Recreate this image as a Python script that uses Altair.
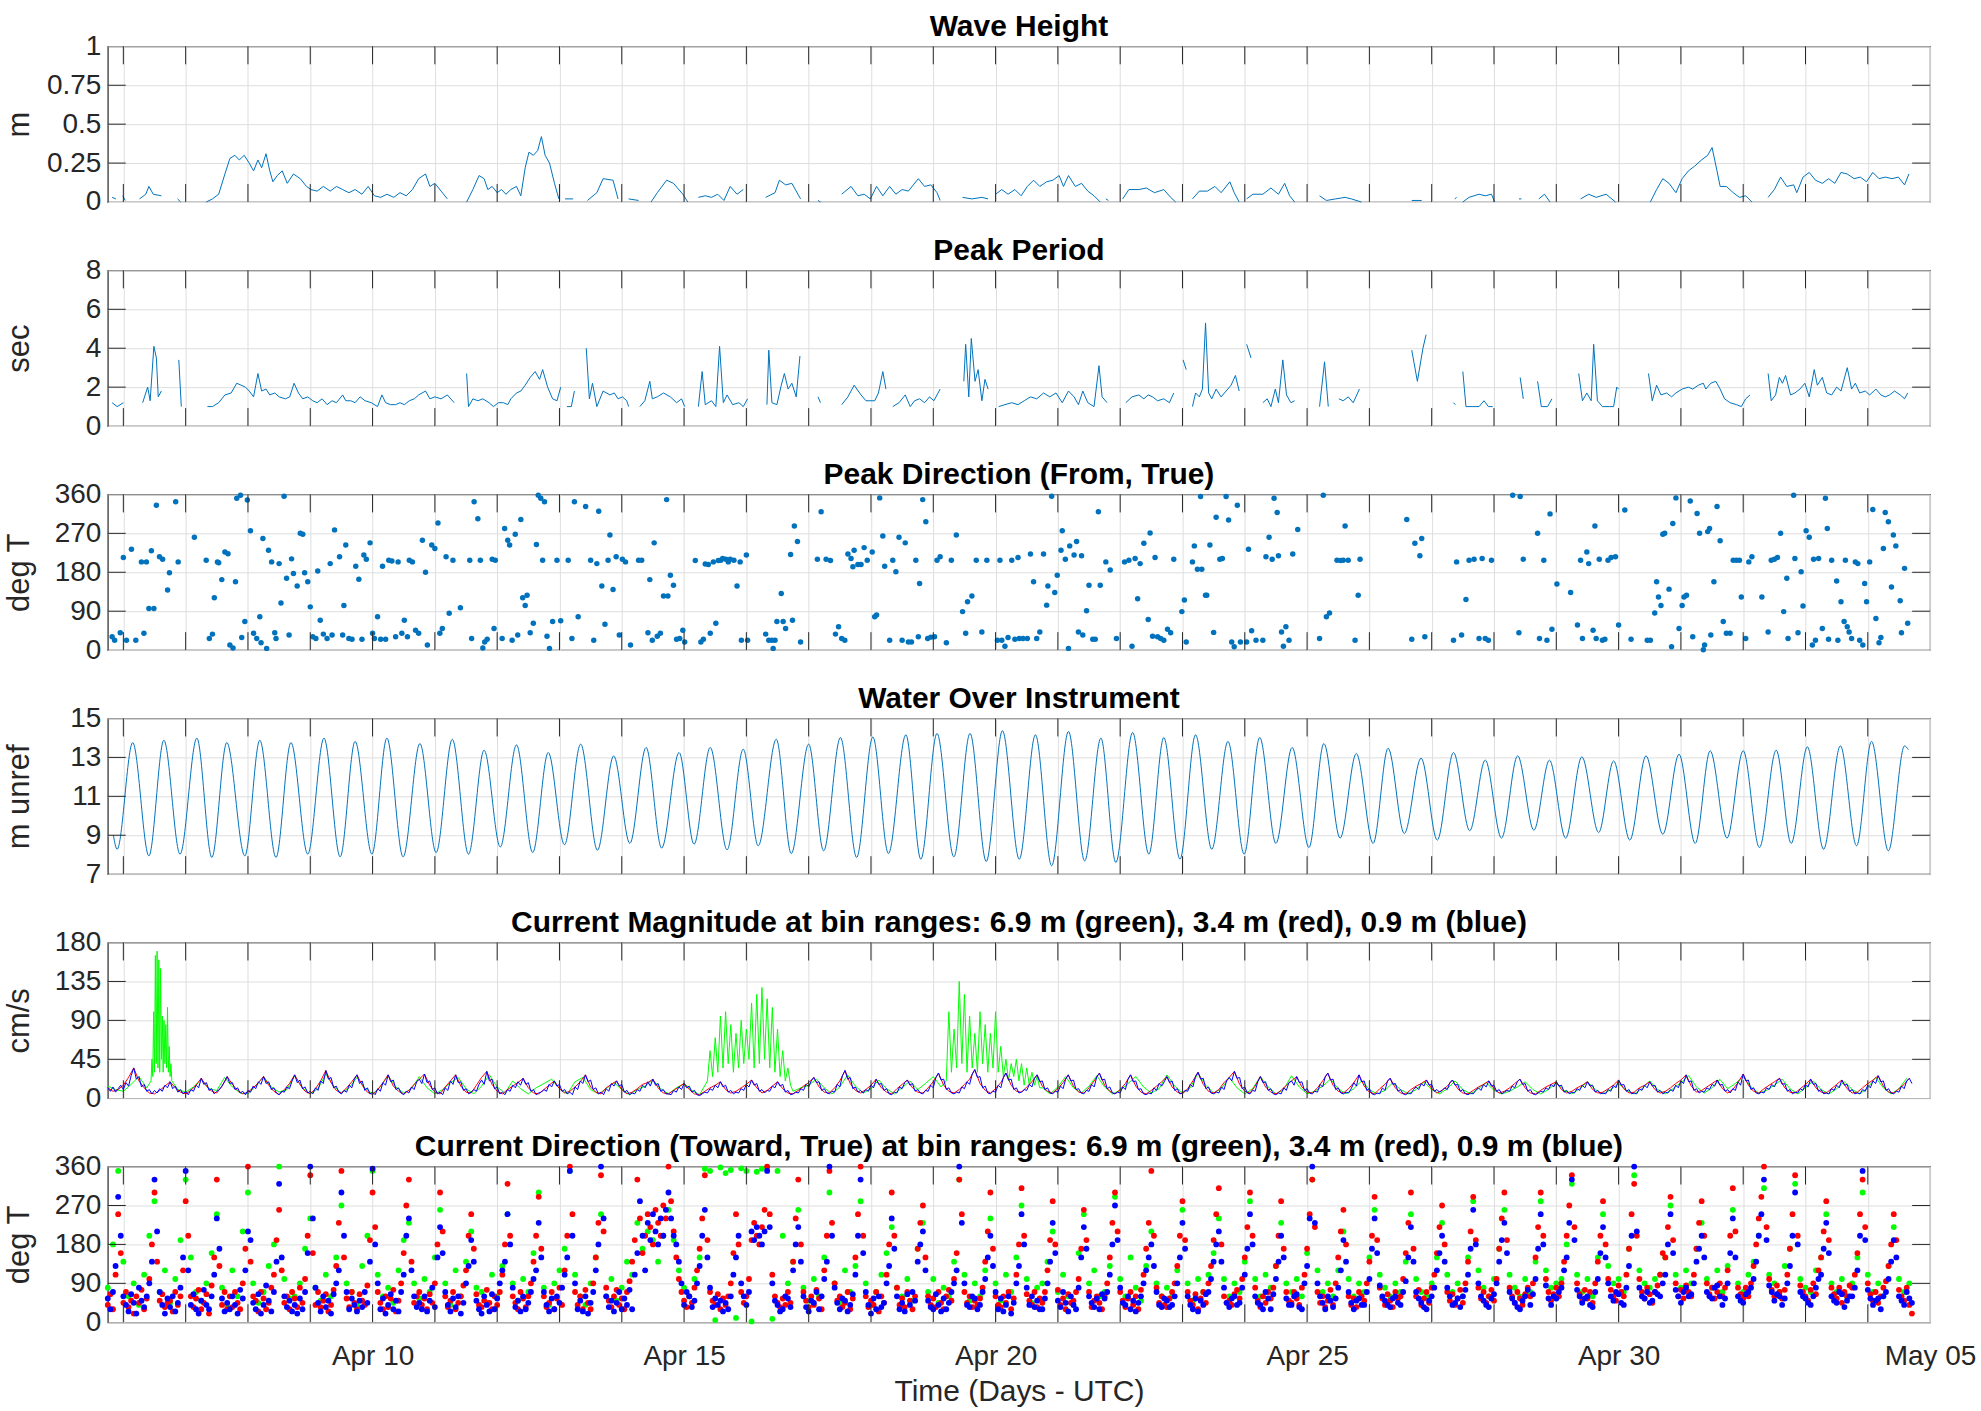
import altair as alt
import pandas as pd

# ---------------------------------------------------------------- style
FONT = "Liberation Sans"
INK = "#262626"
MATLAB_BLUE = "#0072BD"
GRID = "#dedede"
GREEN, RED, BLUE = "#00FF00", "#FF0000", "#0000FF"

W, H = 1826, 156          # plot area of every panel
TICK = 18                 # inward tick length
SPACING = 17.5

# Day offsets below are measured from midnight at the start of Apr 6.
T0 = pd.Timestamp("2021-04-06 00:00")
SERIES_START = "2021-04-05 18:00"
X_DOMAIN = [alt.DateTime(year=2021, month=4, date=5, hours=18),
            alt.DateTime(year=2021, month=5, date=5, hours=0)]

# ---------------------------------------------------------------- data
# Significant wave height (m): gappy record, one list per continuous piece
WAVE_HEIGHT = [
    [(-0.18, 0.03), (-0.12, 0.02)],
    [(-0.01, 0.04), (0.03, 0.01)],
    [(0.26, 0.02), (0.36, 0.05), (0.41, 0.10), (0.48, 0.05), (0.61, 0.04)],
    [(0.87, 0.02), (0.92, 0.0)],
    [(1.33, 0.0), (1.43, 0.02), (1.53, 0.05), (1.63, 0.18), (1.71, 0.28), (1.79, 0.30), (1.86, 0.27), (1.94, 0.30),
     (2.02, 0.25), (2.09, 0.20), (2.16, 0.27), (2.22, 0.22), (2.29, 0.31), (2.35, 0.20), (2.40, 0.13), (2.47, 0.17),
     (2.55, 0.20), (2.63, 0.12), (2.73, 0.18), (2.84, 0.15), (2.94, 0.10), (3.01, 0.08), (3.11, 0.07), (3.21, 0.10),
     (3.32, 0.07), (3.42, 0.10), (3.52, 0.08), (3.62, 0.06), (3.72, 0.08), (3.83, 0.05), (3.93, 0.10), (4.03, 0.04),
     (4.13, 0.03), (4.23, 0.05), (4.34, 0.03), (4.44, 0.06), (4.54, 0.04), (4.64, 0.08), (4.74, 0.15), (4.85, 0.18),
     (4.92, 0.10), (5.00, 0.12), (5.10, 0.07), (5.20, 0.02)],
    [(5.51, 0.0), (5.61, 0.08), (5.71, 0.17), (5.79, 0.15), (5.85, 0.08), (5.92, 0.10), (6.00, 0.06), (6.07, 0.08),
     (6.14, 0.05), (6.22, 0.08), (6.31, 0.10), (6.38, 0.04), (6.45, 0.22), (6.51, 0.32), (6.58, 0.30), (6.65, 0.33),
     (6.71, 0.42), (6.77, 0.30), (6.84, 0.25), (6.92, 0.12), (6.99, 0.02)],
    [(7.09, 0.02), (7.22, 0.02)],
    [(7.45, 0.01), (7.60, 0.06), (7.70, 0.15), (7.86, 0.14), (7.94, 0.02)],
    [(8.11, 0.02), (8.27, 0.01)],
    [(8.47, 0.0), (8.57, 0.06), (8.72, 0.14), (8.83, 0.12), (8.98, 0.05), (9.06, 0.0)],
    [(9.23, 0.03), (9.34, 0.04), (9.44, 0.03), (9.54, 0.05), (9.64, 0.01), (9.74, 0.10), (9.85, 0.05), (9.95, 0.08)],
    [(10.31, 0.03), (10.46, 0.06), (10.53, 0.14), (10.63, 0.11), (10.73, 0.12), (10.87, 0.02)],
    [(11.15, 0.01), (11.19, 0.0)],
    [(11.53, 0.05), (11.68, 0.10), (11.79, 0.04), (11.89, 0.05), (11.99, 0.02), (12.09, 0.10), (12.19, 0.04),
     (12.30, 0.10), (12.40, 0.05), (12.50, 0.08), (12.60, 0.07), (12.76, 0.15), (12.86, 0.10), (12.96, 0.11),
     (13.06, 0.06), (13.11, 0.01)],
    [(13.47, 0.03), (13.62, 0.02), (13.78, 0.03), (13.88, 0.02)],
    [(14.00, 0.05), (14.10, 0.08), (14.20, 0.05), (14.31, 0.08), (14.41, 0.04), (14.51, 0.10), (14.61, 0.14),
     (14.71, 0.10), (14.82, 0.13), (14.92, 0.14), (15.02, 0.17), (15.09, 0.10), (15.17, 0.17), (15.28, 0.10),
     (15.38, 0.12), (15.48, 0.07), (15.58, 0.04), (15.68, 0.0)],
    [(15.77, 0.02), (15.81, 0.01)],
    [(16.04, 0.02), (16.14, 0.08), (16.30, 0.08), (16.42, 0.09), (16.55, 0.06), (16.70, 0.08), (16.81, 0.03), (16.89, 0.0)],
    [(17.16, 0.02), (17.27, 0.07), (17.40, 0.07), (17.52, 0.10), (17.62, 0.06), (17.76, 0.13), (17.83, 0.06), (17.91, 0.0)],
    [(18.03, 0.02), (18.13, 0.05), (18.29, 0.05), (18.42, 0.09), (18.54, 0.05), (18.64, 0.12), (18.72, 0.04), (18.80, 0.0)],
    [(19.20, 0.04), (19.31, 0.01), (19.46, 0.02), (19.61, 0.03), (19.71, 0.02), (19.87, 0.0)],
    [(20.68, 0.01), (20.84, 0.01)],
    [(21.37, 0.02), (21.40, 0.03)],
    [(21.50, 0.0), (21.60, 0.03), (21.76, 0.05), (21.86, 0.04), (21.96, 0.05), (22.01, 0.0)],
    [(22.40, 0.02), (22.44, 0.02)],
    [(22.72, 0.02), (22.81, 0.05), (22.90, 0.0)],
    [(23.39, 0.02), (23.52, 0.05), (23.64, 0.03), (23.80, 0.05), (23.95, 0.0)],
    [(24.51, 0.0), (24.61, 0.08), (24.71, 0.15), (24.81, 0.12), (24.92, 0.06), (25.02, 0.15), (25.12, 0.20),
     (25.22, 0.23), (25.33, 0.27), (25.43, 0.30), (25.50, 0.35), (25.58, 0.20), (25.63, 0.10), (25.73, 0.10),
     (25.84, 0.06), (25.94, 0.03), (26.04, 0.04), (26.14, 0.0)],
    [(26.40, 0.03), (26.50, 0.08), (26.60, 0.16), (26.70, 0.10), (26.81, 0.11), (26.86, 0.06), (26.96, 0.16),
     (27.06, 0.19), (27.16, 0.14), (27.27, 0.12), (27.37, 0.15), (27.47, 0.12), (27.57, 0.19), (27.67, 0.18),
     (27.78, 0.15), (27.88, 0.16), (27.98, 0.13), (28.08, 0.19), (28.18, 0.15), (28.28, 0.16), (28.39, 0.15),
     (28.49, 0.16), (28.59, 0.11), (28.66, 0.18)],
]

# Peak period (s)
PEAK_PERIOD = [
    [(-0.18, 1.2), (-0.10, 1.0), (0.00, 1.2)],
    [(0.31, 1.2), (0.39, 2.0), (0.43, 1.3), (0.49, 4.1), (0.53, 3.5), (0.56, 1.5), (0.61, 1.8)],
    [(0.89, 3.4), (0.93, 1.0)],
    [(1.35, 1.0), (1.43, 1.0), (1.53, 1.2), (1.63, 1.6), (1.73, 1.7), (1.82, 2.2), (1.89, 2.1), (1.96, 2.0),
     (2.02, 1.8), (2.09, 1.5), (2.16, 2.7), (2.22, 1.8), (2.29, 1.9), (2.35, 1.6), (2.43, 1.7), (2.50, 1.5),
     (2.60, 1.4), (2.67, 1.5), (2.74, 2.2), (2.81, 1.7), (2.88, 1.4), (2.96, 1.5), (3.04, 1.3), (3.11, 1.2),
     (3.19, 1.4), (3.27, 1.1), (3.35, 1.3), (3.42, 1.2), (3.52, 1.6), (3.57, 1.3), (3.65, 1.3), (3.72, 1.2),
     (3.80, 1.5), (3.88, 1.3), (3.98, 1.2), (4.08, 1.0), (4.15, 1.6), (4.21, 1.2), (4.29, 1.1), (4.37, 1.1),
     (4.44, 1.2), (4.51, 1.1), (4.59, 1.3), (4.67, 1.4), (4.74, 1.6), (4.85, 1.8), (4.92, 1.4), (5.00, 1.5),
     (5.10, 1.4), (5.20, 1.6), (5.31, 1.2)],
    [(5.51, 2.7), (5.54, 1.0), (5.61, 1.4), (5.69, 1.3), (5.77, 1.4), (5.87, 1.2), (5.94, 1.0), (6.02, 1.2),
     (6.10, 1.2), (6.17, 1.1), (6.22, 1.4), (6.31, 1.7), (6.38, 1.8), (6.45, 2.1), (6.53, 2.5), (6.61, 2.8),
     (6.68, 2.4), (6.73, 2.9), (6.81, 2.0), (6.89, 1.4), (6.96, 1.3), (7.02, 2.0)],
    [(7.12, 1.0), (7.19, 1.0), (7.24, 1.8)],
    [(7.43, 4.0), (7.48, 1.4), (7.53, 2.2), (7.60, 1.0), (7.70, 1.8), (7.81, 1.6), (7.88, 1.7), (7.94, 1.4),
     (8.01, 1.5), (8.08, 1.3), (8.11, 1.0)],
    [(8.29, 1.0), (8.37, 1.3), (8.45, 2.3), (8.49, 1.4), (8.57, 1.5), (8.67, 1.7), (8.78, 1.5), (8.88, 1.2),
     (8.96, 1.4), (9.01, 1.0)],
    [(9.23, 1.0), (9.29, 2.8), (9.34, 1.1), (9.44, 1.3), (9.51, 1.0), (9.57, 4.1), (9.63, 1.2), (9.69, 1.6),
     (9.78, 1.1), (9.88, 1.2), (9.95, 1.0), (10.02, 1.4)],
    [(10.33, 1.1), (10.36, 3.9), (10.41, 1.2), (10.49, 1.1), (10.56, 2.1), (10.61, 2.7), (10.67, 1.9),
     (10.73, 2.2), (10.80, 1.5), (10.86, 3.6)],
    [(11.15, 1.5), (11.19, 1.2)],
    [(11.53, 1.1), (11.63, 1.5), (11.73, 2.1), (11.84, 1.6), (11.92, 1.3), (12.06, 1.3), (12.12, 1.7),
     (12.19, 2.8), (12.24, 1.9)],
    [(12.35, 1.0), (12.45, 1.2), (12.55, 1.6), (12.63, 1.0), (12.70, 1.3), (12.78, 1.4), (12.86, 1.2),
     (12.94, 1.5), (13.01, 1.3), (13.11, 1.9)],
    [(13.49, 2.3), (13.52, 4.2), (13.57, 1.5), (13.61, 4.5), (13.67, 2.3), (13.72, 2.9), (13.78, 1.3),
     (13.83, 2.4), (13.88, 1.9)],
    [(14.05, 1.0), (14.15, 1.1), (14.26, 1.2), (14.36, 1.1), (14.46, 1.3), (14.56, 1.5), (14.66, 1.4),
     (14.77, 1.7), (14.87, 1.5), (14.97, 1.7), (15.07, 1.2), (15.17, 1.8), (15.26, 1.5), (15.33, 1.1),
     (15.40, 1.8), (15.48, 1.2), (15.58, 1.0), (15.66, 3.1), (15.71, 1.5), (15.79, 1.2)],
    [(16.09, 1.2), (16.19, 1.5), (16.30, 1.6), (16.38, 1.4), (16.45, 1.6), (16.52, 1.5), (16.60, 1.3),
     (16.70, 1.4), (16.79, 1.2), (16.86, 1.7)],
    [(17.01, 3.4), (17.06, 2.9)],
    [(17.16, 1.0), (17.21, 1.7), (17.27, 1.5), (17.32, 1.9), (17.37, 5.3), (17.42, 1.7), (17.47, 1.4),
     (17.54, 1.9), (17.62, 1.5), (17.70, 1.8), (17.78, 2.1), (17.85, 2.6), (17.91, 1.8)],
    [(18.03, 4.2), (18.10, 3.5)],
    [(18.29, 1.2), (18.36, 1.4), (18.42, 1.0), (18.49, 1.9), (18.54, 1.2), (18.61, 3.4), (18.67, 1.6),
     (18.74, 1.2), (18.80, 1.3)],
    [(19.20, 1.0), (19.28, 3.3), (19.34, 1.0)],
    [(19.51, 1.4), (19.58, 1.3), (19.66, 1.5), (19.74, 1.2), (19.84, 1.9)],
    [(20.68, 3.9), (20.77, 2.3), (20.86, 4.0), (20.91, 4.7)],
    [(21.35, 1.2), (21.38, 1.1)],
    [(21.50, 2.8), (21.55, 1.0), (21.65, 1.0), (21.76, 1.0), (21.84, 1.3), (21.91, 1.0), (21.98, 1.0)],
    [(22.42, 2.5), (22.47, 1.4)],
    [(22.70, 2.3), (22.76, 1.0), (22.86, 1.0), (22.93, 1.4)],
    [(23.36, 2.7), (23.42, 1.3), (23.49, 1.7), (23.56, 1.3), (23.60, 4.2), (23.66, 1.3), (23.74, 1.0),
     (23.85, 1.0), (23.92, 1.0), (23.97, 2.0), (24.00, 1.9)],
    [(24.48, 2.7), (24.54, 1.3), (24.61, 2.1), (24.68, 1.6), (24.77, 1.7), (24.85, 1.5), (24.92, 1.7),
     (25.02, 1.9), (25.12, 2.0), (25.19, 1.9), (25.28, 2.1), (25.36, 2.2), (25.40, 1.9), (25.48, 2.2),
     (25.56, 2.3), (25.63, 1.9), (25.70, 1.4), (25.79, 1.2), (25.89, 1.1), (25.97, 1.0), (26.04, 1.4), (26.11, 1.6)],
    [(26.40, 2.7), (26.45, 1.3), (26.52, 1.6), (26.58, 2.5), (26.63, 2.2), (26.68, 2.6), (26.76, 1.6),
     (26.83, 1.7), (26.91, 1.9), (26.99, 2.2), (27.06, 1.5), (27.14, 2.9), (27.19, 2.1), (27.27, 2.5),
     (27.34, 1.7), (27.42, 1.6), (27.50, 2.0), (27.57, 1.8), (27.67, 3.0), (27.74, 1.9), (27.80, 2.2),
     (27.87, 1.7), (27.96, 1.8), (28.03, 1.6), (28.13, 1.9), (28.21, 1.6), (28.28, 1.5), (28.35, 1.6),
     (28.43, 1.8), (28.52, 1.6), (28.59, 1.4), (28.64, 1.7)],
]

# Peak wave direction (deg true, coming from): (day, deg)
PEAK_DIRECTION = [
    (-0.18, 31), (-0.14, 23), (-0.05, 40), (0.00, 214), (0.05, 23), (0.13, 233), (0.20, 23), (0.29, 204), (0.33, 39),
    (0.37, 204), (0.41, 96), (0.45, 230), (0.49, 96), (0.53, 335), (0.58, 216), (0.63, 210), (0.71, 139), (0.74, 179),
    (0.84, 343), (0.88, 204), (1.14, 261), (1.33, 208), (1.38, 27), (1.43, 37), (1.46, 121), (1.51, 204), (1.53, 202),
    (1.58, 163), (1.63, 227), (1.68, 223), (1.71, 12), (1.76, 5), (1.80, 158), (1.82, 351), (1.88, 358), (1.90, 29),
    (1.95, 66), (1.99, 347), (2.04, 276), (2.09, 39), (2.14, 27), (2.19, 77), (2.21, 17), (2.24, 258), (2.30, 4),
    (2.33, 231), (2.38, 204), (2.43, 40), (2.45, 27), (2.50, 200), (2.53, 109), (2.58, 356), (2.62, 166), (2.66, 35),
    (2.70, 211), (2.73, 177), (2.79, 148), (2.84, 270), (2.88, 268), (2.91, 179), (2.96, 158), (3.00, 100), (3.04, 31),
    (3.09, 27), (3.12, 183), (3.16, 69), (3.21, 37), (3.27, 27), (3.32, 200), (3.35, 35), (3.39, 278), (3.47, 216),
    (3.52, 35), (3.54, 103), (3.57, 243), (3.62, 27), (3.67, 25), (3.73, 194), (3.78, 164), (3.83, 25), (3.86, 220),
    (3.90, 210), (3.96, 248), (4.00, 39), (4.03, 27), (4.08, 77), (4.13, 25), (4.16, 194), (4.21, 25), (4.26, 208),
    (4.31, 206), (4.37, 31), (4.41, 204), (4.47, 39), (4.51, 69), (4.56, 31), (4.59, 208), (4.64, 204), (4.69, 46),
    (4.74, 39), (4.80, 254), (4.85, 180), (4.88, 12), (4.95, 243), (5.00, 235), (5.05, 294), (5.08, 39), (5.12, 50),
    (5.18, 216), (5.23, 85), (5.29, 208), (5.41, 98), (5.56, 208), (5.59, 27), (5.63, 343), (5.69, 304), (5.73, 208),
    (5.77, 5), (5.80, 19), (5.84, 25), (5.92, 210), (5.95, 50), (5.97, 208), (6.08, 27), (6.12, 281), (6.17, 254),
    (6.20, 243), (6.24, 23), (6.29, 268), (6.33, 35), (6.38, 302), (6.41, 121), (6.45, 103), (6.48, 127), (6.53, 40),
    (6.58, 62), (6.63, 244), (6.66, 358), (6.70, 351), (6.73, 208), (6.76, 343), (6.80, 32), (6.84, 4), (6.89, 66),
    (6.96, 208), (7.02, 68), (7.14, 208), (7.20, 27), (7.24, 343), (7.30, 77), (7.42, 332), (7.50, 208), (7.55, 23),
    (7.60, 200), (7.63, 321), (7.68, 148), (7.73, 60), (7.78, 208), (7.81, 266), (7.86, 140), (7.91, 216), (7.96, 35),
    (8.01, 210), (8.06, 204), (8.14, 12), (8.27, 208), (8.32, 208), (8.42, 40), (8.45, 163), (8.49, 23), (8.52, 248),
    (8.57, 32), (8.62, 39), (8.67, 125), (8.72, 348), (8.74, 125), (8.78, 173), (8.83, 150), (8.88, 25), (8.93, 27),
    (8.98, 46), (9.01, 19), (9.18, 207), (9.27, 19), (9.31, 25), (9.34, 199), (9.39, 198), (9.42, 39), (9.47, 204),
    (9.51, 62), (9.55, 207), (9.59, 208), (9.62, 212), (9.67, 210), (9.71, 204), (9.74, 210), (9.80, 208), (9.85, 148),
    (9.90, 204), (9.92, 23), (10.00, 220), (10.02, 23), (10.31, 37), (10.36, 23), (10.41, 23), (10.43, 4), (10.46, 23),
    (10.49, 66), (10.56, 131), (10.59, 66), (10.63, 50), (10.71, 221), (10.74, 69), (10.77, 287), (10.82, 251),
    (10.87, 19), (11.14, 210), (11.20, 320), (11.28, 210), (11.35, 207), (11.43, 37), (11.48, 54), (11.53, 27),
    (11.58, 23), (11.63, 222), (11.68, 212), (11.71, 193), (11.73, 231), (11.79, 198), (11.84, 198), (11.89, 237),
    (11.94, 208), (12.02, 227), (12.06, 77), (12.09, 81), (12.14, 352), (12.19, 264), (12.22, 194), (12.30, 23),
    (12.35, 208), (12.40, 181), (12.45, 261), (12.50, 23), (12.55, 248), (12.60, 19), (12.65, 19), (12.72, 208),
    (12.76, 31), (12.78, 154), (12.83, 348), (12.88, 297), (12.91, 27), (12.96, 30), (13.02, 31), (13.06, 208),
    (13.11, 216), (13.21, 17), (13.29, 208), (13.37, 266), (13.47, 89), (13.52, 39), (13.55, 112), (13.62, 125),
    (13.69, 208), (13.78, 42), (13.86, 208), (14.03, 23), (14.07, 208), (14.10, 23), (14.15, 9), (14.20, 29),
    (14.26, 208), (14.31, 25), (14.36, 214), (14.38, 27), (14.44, 27), (14.51, 27), (14.56, 222), (14.61, 158),
    (14.66, 27), (14.71, 42), (14.77, 222), (14.82, 104), (14.84, 148), (14.90, 356), (14.95, 133), (14.99, 173),
    (15.05, 231), (15.07, 276), (15.12, 210), (15.17, 4), (15.19, 241), (15.26, 220), (15.30, 251), (15.33, 42),
    (15.38, 218), (15.40, 35), (15.46, 91), (15.50, 150), (15.56, 25), (15.60, 25), (15.65, 320), (15.68, 150),
    (15.77, 204), (15.84, 185), (15.94, 27), (16.07, 204), (16.14, 208), (16.19, 9), (16.24, 212), (16.28, 119),
    (16.32, 200), (16.38, 247), (16.45, 71), (16.48, 271), (16.52, 32), (16.56, 214), (16.60, 31), (16.65, 27),
    (16.70, 23), (16.76, 48), (16.81, 40), (16.86, 210), (16.99, 89), (17.03, 116), (17.06, 19), (17.16, 204),
    (17.19, 241), (17.24, 187), (17.29, 355), (17.31, 187), (17.37, 127), (17.39, 127), (17.44, 243), (17.50, 41),
    (17.54, 307), (17.60, 210), (17.64, 212), (17.70, 355), (17.74, 301), (17.79, 19), (17.83, 8), (17.88, 335),
    (17.93, 19), (18.03, 19), (18.06, 233), (18.11, 45), (18.18, 23), (18.29, 23), (18.34, 216), (18.39, 261),
    (18.44, 210), (18.47, 351), (18.52, 318), (18.54, 218), (18.59, 42), (18.62, 9), (18.66, 54), (18.71, 23),
    (18.77, 222), (18.85, 279), (19.20, 27), (19.26, 358), (19.31, 77), (19.36, 86), (19.48, 208), (19.54, 207),
    (19.58, 208), (19.61, 287), (19.66, 208), (19.77, 23), (19.82, 127), (19.85, 210), (20.60, 302), (20.68, 25),
    (20.73, 247), (20.81, 218), (20.84, 258), (20.89, 31), (21.35, 23), (21.40, 204), (21.48, 35), (21.55, 117),
    (21.60, 208), (21.68, 210), (21.76, 27), (21.81, 212), (21.86, 27), (21.91, 23), (21.96, 208), (22.30, 358),
    (22.40, 40), (22.42, 355), (22.47, 210), (22.70, 270), (22.73, 27), (22.80, 208), (22.85, 23), (22.90, 315),
    (22.93, 48), (23.01, 153), (23.23, 133), (23.34, 58), (23.39, 208), (23.42, 27), (23.49, 227), (23.52, 200),
    (23.59, 46), (23.62, 287), (23.64, 27), (23.69, 210), (23.74, 23), (23.78, 25), (23.83, 208), (23.88, 214),
    (23.95, 216), (24.00, 58), (24.10, 324), (24.20, 25), (24.46, 23), (24.51, 23), (24.58, 86), (24.61, 158),
    (24.64, 123), (24.68, 103), (24.71, 268), (24.74, 270), (24.81, 141), (24.85, 8), (24.87, 293), (24.92, 352),
    (24.97, 50), (25.02, 103), (25.05, 123), (25.09, 127), (25.15, 345), (25.19, 31), (25.26, 316), (25.30, 270),
    (25.36, 1), (25.38, 12), (25.43, 274), (25.46, 281), (25.48, 35), (25.53, 158), (25.58, 332), (25.63, 253),
    (25.68, 66), (25.73, 39), (25.79, 39), (25.84, 208), (25.89, 208), (25.94, 208), (25.97, 123), (26.04, 27),
    (26.09, 204), (26.14, 216), (26.30, 123), (26.40, 42), (26.45, 208), (26.50, 210), (26.55, 214), (26.60, 270),
    (26.65, 89), (26.70, 166), (26.72, 27), (26.81, 358), (26.83, 212), (26.88, 40), (26.93, 181), (26.96, 102),
    (27.01, 276), (27.06, 261), (27.11, 12), (27.13, 210), (27.16, 23), (27.21, 212), (27.27, 50), (27.32, 351),
    (27.35, 281), (27.37, 25), (27.42, 208), (27.50, 160), (27.52, 23), (27.57, 112), (27.62, 66), (27.64, 208),
    (27.67, 54), (27.70, 42), (27.74, 27), (27.80, 204), (27.84, 200), (27.87, 23), (27.92, 12), (27.95, 154),
    (27.98, 112), (28.03, 204), (28.08, 325), (28.13, 73), (28.18, 17), (28.21, 29), (28.25, 235), (28.28, 318),
    (28.33, 297), (28.38, 146), (28.41, 266), (28.45, 241), (28.52, 114), (28.54, 40), (28.59, 189), (28.64, 62),
]

# Water depth over the instrument (m, unreferenced): successive highs and lows
TIDE = [
    (-0.16, 9.0), (-0.10, 8.28), (0.15, 13.76), (0.41, 7.94), (0.65, 13.88), (0.91, 8.03), (1.18, 13.99), (1.42, 7.86),
    (1.66, 13.76), (1.95, 7.94), (2.19, 13.88), (2.45, 7.86), (2.69, 13.76), (2.96, 8.03), (3.22, 13.99), (3.48, 7.89),
    (3.72, 13.82), (3.99, 8.03), (4.23, 13.99), (4.49, 7.89), (4.76, 13.71), (5.02, 8.11), (5.28, 13.93), (5.54, 8.03),
    (5.79, 13.37), (6.05, 8.40), (6.31, 13.64), (6.57, 8.11), (6.82, 13.25), (7.08, 8.51), (7.34, 13.68), (7.61, 8.23),
    (7.87, 13.08), (8.13, 8.58), (8.39, 13.51), (8.64, 8.34), (8.92, 13.25), (9.16, 8.54), (9.42, 13.51), (9.69, 8.25),
    (9.95, 13.42), (10.19, 8.46), (10.48, 13.93), (10.72, 8.06), (11.00, 13.68), (11.24, 8.20), (11.51, 14.02),
    (11.77, 7.86), (12.03, 14.05), (12.28, 8.06), (12.56, 14.16), (12.80, 7.77), (13.06, 14.23), (13.33, 7.89),
    (13.59, 14.23), (13.85, 7.65), (14.11, 14.37), (14.38, 7.77), (14.64, 14.16), (14.90, 7.43), (15.17, 14.33),
    (15.43, 7.68), (15.69, 13.99), (15.93, 7.60), (16.20, 14.28), (16.46, 8.03), (16.70, 14.02), (16.96, 7.77),
    (17.21, 14.16), (17.47, 8.28), (17.73, 13.82), (17.99, 8.03), (18.24, 14.02), (18.50, 8.58), (18.76, 13.51),
    (19.03, 8.37), (19.27, 13.71), (19.53, 8.85), (19.79, 13.20), (20.06, 8.58), (20.30, 13.47), (20.56, 9.09),
    (20.83, 12.96), (21.09, 8.75), (21.35, 13.25), (21.61, 9.23), (21.86, 12.86), (22.12, 8.85), (22.38, 13.08),
    (22.64, 9.26), (22.89, 12.86), (23.15, 8.85), (23.41, 13.03), (23.68, 9.14), (23.92, 12.82), (24.18, 8.75),
    (24.44, 13.08), (24.71, 9.05), (24.97, 13.16), (25.23, 8.58), (25.47, 13.34), (25.74, 8.85), (26.00, 13.34),
    (26.26, 8.37), (26.53, 13.37), (26.77, 8.58), (27.03, 13.54), (27.29, 8.28), (27.56, 13.59), (27.82, 8.46),
    (28.06, 13.82), (28.33, 8.20), (28.59, 13.59), (28.65, 13.40),
]

# Current speed (cm/s). Blue: 0.9 m bin, hourly; red: 3.4 m bin, every 2 h;
# green: 6.9 m bin, every 3 h plus three high-rate bursts.
SPEED_BLUE = [
    12, 8, 13, 7, 11, 15, 10, 18, 14, 26, 35, 22, 25, 13, 16, 8, 10, 5, 9, 6, 11, 8, 15, 12,
    19, 11, 14, 7, 10, 5, 8, 4, 10, 8, 15, 12, 23, 16, 18, 9, 11, 5, 8, 10, 14, 19, 25, 17,
    18, 10, 12, 6, 8, 4, 9, 7, 14, 11, 19, 16, 25, 17, 19, 10, 12, 6, 4, 8, 7, 13, 11, 20,
    27, 18, 21, 11, 13, 6, 8, 5, 12, 9, 20, 17, 32, 22, 24, 12, 14, 7, 5, 9, 7, 15, 12, 22,
    27, 17, 20, 9, 12, 5, 7, 4, 11, 8, 18, 15, 27, 19, 21, 10, 12, 6, 4, 8, 6, 13, 10, 19,
    22, 17, 28, 18, 20, 10, 12, 5, 7, 4, 12, 9, 20, 16, 27, 18, 19, 9, 11, 5, 7, 10, 8, 16,
    21, 16, 31, 20, 22, 11, 13, 5, 7, 4, 10, 8, 15, 12, 19, 15, 23, 16, 18, 8, 10, 4, 6, 7,
    10, 8, 16, 13, 20, 14, 16, 8, 10, 5, 7, 4, 13, 10, 20, 17, 27, 19, 21, 10, 12, 5, 7, 4,
    11, 8, 17, 14, 20, 14, 16, 7, 9, 4, 6, 5, 10, 8, 15, 12, 19, 14, 22, 15, 17, 8, 10, 5,
    5, 4, 9, 7, 13, 10, 17, 12, 14, 7, 9, 4, 3, 5, 7, 6, 11, 9, 15, 12, 19, 13, 15, 7,
    9, 5, 7, 6, 11, 9, 16, 13, 21, 15, 17, 8, 10, 6, 9, 8, 14, 12, 19, 14, 16, 7, 9, 4,
    5, 7, 6, 11, 9, 16, 13, 20, 24, 18, 19, 9, 11, 6, 5, 8, 7, 16, 13, 26, 32, 22, 24, 11,
    13, 7, 9, 6, 10, 8, 15, 12, 22, 16, 17, 9, 11, 5, 4, 7, 6, 13, 11, 18, 21, 15, 17, 8,
    10, 6, 5, 9, 8, 15, 12, 24, 29, 21, 22, 10, 12, 6, 5, 7, 6, 13, 11, 19, 16, 28, 33, 24,
    25, 12, 14, 6, 5, 8, 7, 15, 12, 24, 29, 21, 22, 10, 12, 6, 7, 10, 9, 16, 13, 23, 27, 19,
    20, 10, 12, 6, 5, 8, 7, 14, 11, 22, 27, 20, 21, 10, 11, 6, 5, 9, 8, 16, 13, 25, 29, 21,
    22, 11, 13, 6, 5, 7, 6, 13, 10, 22, 27, 19, 20, 10, 11, 5, 4, 6, 5, 12, 9, 17, 14, 19,
    25, 18, 20, 9, 11, 5, 6, 9, 8, 16, 13, 25, 30, 22, 23, 11, 13, 6, 5, 7, 6, 13, 10, 20,
    24, 20, 31, 23, 24, 11, 13, 6, 5, 9, 8, 19, 25, 18, 19, 9, 11, 5, 4, 6, 5, 12, 9, 18,
    20, 15, 25, 18, 19, 9, 11, 6, 5, 8, 7, 16, 13, 25, 29, 21, 22, 10, 12, 6, 5, 7, 6, 11,
    18, 14, 27, 19, 20, 9, 11, 5, 4, 6, 5, 12, 9, 20, 23, 16, 17, 8, 10, 5, 4, 6, 5, 10,
    13, 10, 17, 14, 21, 15, 16, 8, 10, 7, 9, 12, 10, 18, 21, 15, 16, 8, 10, 5, 4, 6, 5, 9,
    12, 9, 16, 13, 20, 14, 15, 8, 10, 5, 7, 9, 8, 14, 12, 19, 22, 16, 17, 8, 10, 5, 4, 6,
    8, 7, 12, 10, 16, 13, 19, 14, 15, 7, 9, 5, 7, 6, 11, 9, 15, 12, 19, 14, 15, 7, 9, 5,
    6, 5, 10, 8, 15, 12, 21, 15, 16, 8, 10, 5, 6, 5, 11, 9, 15, 12, 19, 14, 15, 7, 9, 5,
    7, 6, 10, 8, 15, 12, 20, 17, 27, 19, 20, 9, 11, 6, 8, 7, 12, 10, 16, 14, 21, 15, 16, 8,
    10, 6, 11, 9, 19, 15, 28, 20, 21, 10, 12, 6, 5, 7, 6, 12, 10, 16, 13, 20, 23, 16, 17, 8,
    10, 5, 7, 6, 11, 9, 16, 13, 22, 16, 17, 8, 10, 5, 6, 5, 11, 9, 15, 12, 21, 15, 16, 8,
    10, 5, 6, 5, 10, 8, 15, 12, 20, 17, 26, 19, 20, 9, 11, 6, 5, 8, 7, 14, 11, 20, 23, 17,
]
SPEED_RED = [
    12, 8, 10, 15, 24, 35, 20, 12, 6, 5, 9, 14,
    19, 12, 7, 5, 9, 15, 23, 14, 8, 6, 14, 25,
    16, 9, 5, 7, 12, 18, 25, 15, 8, 4, 10, 17,
    27, 16, 8, 5, 11, 20, 32, 18, 9, 6, 12, 19,
    27, 15, 7, 4, 10, 18, 27, 14, 8, 5, 9, 16,
    22, 28, 15, 7, 5, 13, 20, 27, 14, 7, 6, 15,
    24, 31, 16, 8, 5, 10, 14, 18, 23, 12, 6, 5,
    10, 15, 20, 11, 6, 8, 13, 19, 27, 13, 7, 5,
    12, 16, 20, 10, 5, 7, 11, 16, 18, 22, 12, 6,
    5, 9, 13, 17, 10, 5, 4, 8, 12, 15, 19, 10,
    6, 8, 12, 16, 21, 12, 6, 9, 14, 19, 11, 6,
    5, 9, 14, 18, 24, 13, 7, 6, 12, 20, 32, 17,
    9, 6, 10, 15, 22, 12, 7, 5, 11, 16, 21, 12,
    7, 6, 12, 19, 29, 15, 8, 6, 10, 16, 22, 33,
    17, 9, 6, 11, 18, 29, 15, 8, 7, 13, 19, 27,
    14, 8, 6, 11, 18, 27, 14, 7, 6, 12, 20, 29,
    15, 8, 5, 10, 17, 27, 14, 7, 5, 9, 14, 19,
    25, 13, 7, 5, 11, 20, 30, 16, 8, 6, 10, 18,
    24, 31, 16, 8, 6, 14, 25, 13, 7, 5, 9, 15,
    20, 25, 13, 7, 6, 12, 20, 29, 15, 8, 6, 11,
    18, 27, 14, 7, 5, 11, 16, 23, 12, 6, 5, 10,
    14, 17, 21, 11, 6, 9, 14, 21, 11, 6, 5, 9,
    13, 16, 20, 11, 6, 8, 12, 17, 22, 12, 6, 5,
    9, 13, 16, 19, 10, 6, 8, 12, 15, 19, 10, 6,
    7, 11, 15, 21, 11, 6, 7, 12, 15, 19, 10, 6,
    8, 12, 17, 21, 27, 14, 7, 9, 13, 17, 21, 11,
    6, 10, 18, 28, 15, 8, 6, 11, 15, 19, 23, 12,
    7, 6, 11, 16, 22, 12, 7, 6, 11, 16, 21, 11,
    6, 7, 12, 17, 21, 26, 14, 7, 6, 11, 16, 23,
]
SPEED_GREEN = [
    14, 10, 8, 16, 25, 12, None, None,
    None, 10, 7, 13, 22, 11, 9, 24,
    13, 6, 5, 14, 25, 13, 7, 10,
    26, 12, 5, 11, 28, 14, 6, 12,
    24, 12, 5, 13, 26, 13, 6, 11,
    25, 12, 5, 10, 18, 24, 11, 5,
    14, 27, 13, 6, 20, 11, 5, 12,
    17, 22, 11, 5, 19, 24, 10, 5,
    11, 18, 10, 4, 10, 14, 21, 11,
    5, 12, 17, 9, 4, None, None, None,
    None, None, None, None, None, None, None, None,
    8, 12, 15, 22, 12, 5, 13, 27,
    14, 6, 11, 21, 11, 5, 12, 20,
    10, 17, 25, 13, None, None, None, None,
    None, None, None, None, None, None, None, None,
    12, 5, 13, 25, 12, 6, 14, 26,
    13, 5, 9, 17, 25, 13, 6, 11,
    27, 14, 6, 12, 29, 15, 6, 11,
    24, 12, 5, 11, 25, 13, 5, 10,
    26, 13, 5, 8, 14, 22, 11, 5,
    11, 20, 10, 5, 9, 18, 10, 5,
    10, 19, 10, 5, 11, 20, 10, 5,
    11, 18, 9, 5, 8, 13, 19, 10,
    5, 10, 18, 9, 5, 11, 19, 10,
    5, 10, 17, 9, 5, 11, 20, 10,
    5, 11, 18, 26, 13, 6, 12, 22,
    11, 17, 25, 13, 6, 9, 15, 22,
    11, 5, 12, 20, 10, 5, 11, 19,
    10, 5, 12, 24, 12, 5, 11, 23,
]
BURST_1 = [20, 45, 25, 100, 30, 165, 40, 170, 35, 160, 30, 150, 45, 95, 30, 90, 40, 85, 35, 105, 30, 60, 25, 40, 20]
BURST_2 = [20, 55, 25, 70, 30, 95, 35, 100, 40, 85, 30, 75, 35, 90, 40, 80, 45, 110, 35, 120, 40, 128, 45, 115,
           35, 105, 30, 80, 25, 55, 20, 35, 15]
BURST_3 = [20, 100, 30, 80, 35, 135, 40, 120, 30, 95, 35, 75, 30, 100, 40, 85, 30, 75, 35, 100, 30, 60, 25, 45,
           20, 40, 25, 45, 20, 40, 15, 35, 15, 30, 15, 25, 12]

# Current direction (deg true, going toward). Blue and red hourly, green every 2 h.
DIR_BLUE = [
    55, 30, 70, 130, 290, 200, 60, 40, 25, 65, 45, 20, 80, 50, 35, 60, 90, 140, 330, 210, 70, 40, 20, 55,
    35, 60, 25, 45, 80, 150, 350, 120, 40, 65, 30, 20, 50, 75, 40, 30, 60, 110, 240, 170, 55, 25, 45, 30,
    60, 40, 20, 75, 55, 120, 210, 190, 45, 30, 65, 20, 40, 85, 50, 25, 70, 140, 320, 150, 60, 35, 50, 25,
    40, 20, 55, 30, 70, 160, 360, 240, 80, 45, 25, 60, 35, 50, 20, 65, 90, 120, 300, 200, 70, 30, 55, 40,
    25, 50, 35, 70, 45, 140, 355, 180, 90, 30, 55, 20, 40, 65, 30, 50, 25, 70, 110, 200, 240, 120, 60, 35,
    45, 30, 60, 25, 50, 80, 35, 150, 220, 160, 70, 40, 25, 55, 35, 60, 20, 45, 90, 130, 190, 140, 50, 30,
    20, 60, 40, 25, 65, 30, 55, 90, 120, 140, 250, 180, 80, 35, 50, 25, 60, 30, 45, 70, 100, 120, 230, 150,
    70, 40, 25, 55, 30, 60, 45, 80, 110, 150, 350, 200, 90, 30, 50, 25, 60, 20, 45, 70, 120, 180, 360, 240,
    60, 35, 50, 25, 45, 70, 30, 55, 40, 75, 30, 110, 160, 280, 200, 120, 230, 190, 250, 210, 180, 240, 200, 260,
    300, 240, 200, 180, 140, 90, 40, 70, 60, 35, 50, 90, 130, 200, 260, 150, 80, 35, 55, 40, 50, 25, 45, 30,
    60, 110, 150, 200, 90, 60, 40, 70, 210, 190, 220, 200, 180, 210, 350, 220, 90, 50, 40, 25, 30, 60, 55, 35,
    120, 180, 220, 140, 60, 35, 25, 50, 45, 70, 30, 60, 100, 140, 360, 200, 80, 45, 30, 55, 50, 25, 40, 65,
    110, 200, 330, 160, 70, 40, 20, 55, 30, 60, 35, 45, 90, 130, 240, 170, 60, 30, 45, 25, 65, 40, 70, 50,
    140, 180, 210, 120, 50, 35, 30, 65, 40, 25, 55, 30, 45, 70, 90, 120, 360, 230, 90, 40, 35, 60, 55, 30,
    40, 70, 100, 150, 200, 130, 70, 30, 55, 25, 40, 60, 20, 45, 90, 130, 250, 180, 80, 40, 60, 35, 50, 30,
    30, 55, 90, 140, 230, 160, 50, 35, 70, 45, 25, 60, 40, 30, 80, 150, 220, 170, 60, 45, 35, 55, 30, 65,
    55, 70, 110, 180, 270, 190, 80, 45, 40, 60, 30, 50, 25, 45, 60, 90, 120, 150, 180, 130, 70, 40, 35, 55,
    50, 35, 40, 60, 90, 150, 230, 170, 60, 40, 30, 55, 25, 50, 40, 65, 70, 100, 140, 180, 210, 140, 80, 45,
    35, 55, 60, 40, 45, 80, 110, 170, 250, 180, 60, 45, 40, 30, 70, 55, 30, 65, 100, 140, 200, 150, 55, 40,
    40, 60, 65, 35, 30, 90, 130, 240, 360, 230, 90, 60, 45, 30, 60, 50, 35, 55, 80, 120, 190, 140, 70, 45,
    30, 50, 55, 40, 40, 70, 100, 170, 240, 160, 85, 60, 50, 40, 35, 55, 60, 45, 40, 70, 95, 150, 220, 140,
    70, 55, 45, 35, 30, 50, 60, 80, 120, 160, 200, 140, 80, 60, 40, 45, 55, 35, 60, 75, 110, 170, 260, 180,
    90, 60, 50, 40, 35, 55, 65, 90, 140, 190, 230, 160, 70, 55, 45, 35, 30, 50, 60, 75, 40, 65, 100, 170,
    250, 180, 85, 55, 40, 60, 55, 70, 80, 120, 150, 230, 330, 190, 75, 60, 45, 55, 60, 40, 35, 70, 100, 160,
    220, 150, 90, 60, 50, 70, 65, 45, 40, 80, 130, 200, 360, 210, 80, 60, 55, 70, 45, 50, 70, 65, 60, 90,
    110, 180, 250, 160, 75, 60, 45, 70, 80, 60, 65, 90, 140, 170, 200, 150, 70, 60, 55, 80, 85, 60, 40, 55,
    90, 160, 240, 150, 60, 50, 45, 65, 70, 80, 100, 140, 200, 250, 330, 190, 85, 70, 50, 65, 60, 40, 55, 90,
    130, 200, 300, 180, 70, 60, 55, 45, 40, 60, 80, 100, 110, 170, 230, 160, 60, 50, 45, 70, 65, 35, 50, 60,
    60, 80, 120, 200, 350, 190, 75, 55, 40, 50, 55, 30, 60, 70, 100, 140, 190, 150, 60, 50, 40, 70, 55, 45,
]
DIR_RED = [
    40, 65, 30, 110, 250, 160, 45, 70, 35, 50, 20, 60, 45, 75, 30, 55, 100, 180, 300, 140, 50, 65, 35, 45,
    50, 25, 70, 40, 60, 120, 280, 200, 60, 35, 55, 75, 30, 45, 65, 20, 85, 150, 330, 130, 40, 70, 30, 60,
    35, 70, 45, 30, 90, 170, 360, 140, 60, 50, 25, 70, 55, 30, 45, 80, 110, 190, 260, 120, 45, 60, 30, 70,
    55, 35, 80, 45, 100, 200, 340, 160, 40, 70, 35, 50, 65, 25, 40, 75, 130, 230, 350, 150, 55, 35, 70, 45,
    30, 65, 50, 40, 85, 190, 300, 220, 70, 45, 30, 60, 35, 55, 75, 25, 50, 90, 160, 270, 330, 140, 45, 60,
    70, 40, 55, 30, 65, 45, 90, 180, 300, 210, 60, 35, 50, 70, 30, 45, 60, 85, 120, 200, 250, 170, 65, 40,
    35, 50, 75, 45, 30, 60, 40, 70, 110, 180, 320, 200, 60, 45, 30, 70, 55, 35, 60, 90, 140, 200, 290, 170,
    60, 35, 45, 70, 30, 55, 80, 40, 120, 200, 360, 250, 70, 40, 60, 30, 75, 45, 30, 90, 150, 230, 340, 210,
    80, 50, 35, 60, 75, 40, 55, 30, 70, 95, 140, 190, 330, 240, 160, 200, 250, 220, 180, 260, 230, 200, 270, 240,
    360, 280, 210, 150, 100, 70, 50, 35, 60, 45, 80, 120, 170, 240, 340, 190, 70, 50, 40, 65, 30, 55, 40, 60,
    90, 160, 250, 180, 70, 45, 60, 100, 190, 230, 200, 180, 220, 260, 360, 250, 110, 60, 45, 35, 55, 40, 70, 45,
    140, 240, 330, 180, 70, 50, 35, 60, 40, 75, 55, 30, 120, 200, 350, 230, 90, 50, 60, 35, 45, 70, 30, 55,
    150, 250, 360, 200, 60, 35, 50, 40, 70, 25, 60, 45, 110, 180, 300, 200, 80, 40, 55, 35, 70, 50, 30, 60,
    170, 230, 270, 150, 60, 40, 55, 35, 70, 45, 30, 60, 75, 50, 100, 160, 330, 250, 70, 45, 60, 35, 50, 40,
    55, 80, 140, 210, 300, 170, 60, 40, 35, 60, 45, 70, 30, 55, 110, 180, 310, 200, 65, 50, 40, 70, 35, 55,
    45, 70, 120, 190, 280, 180, 75, 40, 55, 30, 65, 45, 50, 70, 100, 170, 260, 190, 70, 35, 50, 60, 45, 30,
    60, 90, 150, 230, 300, 210, 70, 50, 35, 55, 70, 40, 60, 30, 75, 110, 170, 230, 350, 200, 80, 45, 60, 40,
    35, 55, 70, 90, 130, 200, 280, 190, 70, 50, 40, 65, 30, 55, 70, 45, 90, 130, 190, 250, 310, 180, 60, 45,
    50, 40, 65, 75, 55, 100, 150, 220, 300, 200, 80, 50, 35, 60, 45, 70, 55, 80, 130, 200, 280, 170, 70, 50,
    45, 70, 55, 40, 80, 110, 170, 250, 330, 220, 70, 45, 60, 35, 50, 75, 40, 90, 150, 210, 260, 180, 60, 40,
    55, 35, 70, 60, 50, 90, 140, 200, 290, 190, 80, 55, 40, 65, 50, 35, 70, 55, 60, 100, 160, 230, 300, 170,
    60, 75, 40, 55, 70, 45, 80, 110, 160, 220, 270, 180, 70, 50, 65, 40, 55, 75, 45, 90, 140, 210, 290, 190,
    80, 55, 70, 45, 60, 75, 50, 100, 170, 240, 300, 190, 80, 60, 45, 70, 55, 40, 65, 80, 60, 90, 150, 220,
    300, 200, 100, 70, 50, 65, 80, 60, 90, 140, 200, 270, 340, 220, 90, 65, 50, 75, 55, 70, 45, 90, 140, 200,
    280, 180, 100, 75, 60, 50, 85, 70, 60, 110, 170, 250, 320, 200, 100, 70, 55, 80, 65, 45, 70, 85, 110, 160,
    150, 220, 290, 190, 90, 60, 75, 55, 85, 70, 60, 110, 170, 230, 280, 200, 90, 65, 80, 55, 70, 90, 60, 80,
    120, 200, 310, 210, 80, 65, 55, 80, 60, 90, 130, 180, 240, 290, 360, 220, 100, 75, 60, 85, 70, 55, 75, 110,
    170, 250, 340, 200, 85, 70, 60, 50, 75, 90, 65, 120, 150, 210, 280, 190, 80, 65, 55, 80, 45, 70, 60, 85,
    80, 110, 160, 250, 330, 220, 90, 65, 50, 70, 45, 60, 80, 95, 130, 180, 250, 190, 75, 60, 50, 80, 40, 20,
]
DIR_GREEN = [
    80, 180, 350, 140, 60, 90, 40, 110, 200, 280, 70, 120,
    45, 100, 190, 330, 150, 70, 50, 90, 160, 250, 80, 40,
    120, 60, 210, 300, 90, 45, 70, 130, 180, 360, 100, 55,
    60, 90, 170, 240, 80, 50, 110, 60, 150, 270, 90, 70,
    40, 130, 200, 350, 110, 60, 80, 45, 120, 190, 230, 90,
    55, 100, 70, 150, 260, 90, 40, 120, 60, 140, 210, 80,
    70, 45, 110, 60, 130, 250, 90, 50, 100, 70, 160, 300,
    80, 40, 90, 120, 170, 350, 110, 60, 40, 90, 150, 250,
    60, 100, 50, 80, 140, 110, 230, 170, 210, 190, 140, 200,
    260, 190, 120, 80, 60, 100, 150, 355, 350, 5, 358, 345,
    352, 10, 356, 350, 2, 348, 355, 358, 8, 350, 200, 90,
    140, 260, 80, 50, 100, 60, 150, 300, 90, 45, 120, 70,
    130, 280, 90, 40, 70, 110, 160, 220, 80, 60, 100, 50,
    170, 230, 70, 100, 45, 80, 60, 140, 330, 110, 50, 90,
    60, 120, 240, 90, 50, 110, 70, 150, 270, 100, 45, 80,
    90, 140, 210, 70, 110, 60, 40, 160, 250, 90, 120, 60,
    70, 130, 290, 100, 60, 150, 80, 50, 130, 210, 90, 60,
    80, 60, 120, 260, 90, 50, 100, 70, 110, 160, 240, 100,
    60, 90, 70, 140, 280, 100, 60, 110, 80, 130, 230, 90,
    70, 100, 60, 160, 330, 120, 70, 90, 60, 120, 210, 100,
    60, 90, 70, 150, 260, 110, 80, 60, 90, 70, 140, 250,
    100, 70, 60, 90, 150, 230, 110, 70, 90, 60, 150, 280,
    120, 80, 60, 100, 170, 260, 110, 80, 60, 100, 70, 140,
    280, 120, 80, 90, 100, 180, 320, 110, 70, 100, 60, 150,
    250, 130, 90, 100, 70, 170, 340, 120, 90, 80, 100, 110,
    150, 270, 110, 80, 120, 90, 170, 230, 100, 80, 120, 70,
    130, 260, 90, 70, 110, 140, 200, 310, 110, 90, 70, 130,
    170, 320, 100, 80, 70, 120, 150, 250, 90, 70, 100, 60,
    90, 150, 300, 110, 70, 90, 60, 130, 220, 100, 70, 90,
]


# ---------------------------------------------------------------- frames
def when(day):
    return T0 + pd.Timedelta(days=day)


def segments_frame(segments):
    rows = [{"t": when(d), "v": float(v), "seg": k} for k, seg in enumerate(segments) for d, v in seg]
    return pd.DataFrame(rows)


def pairs_frame(pairs):
    return pd.DataFrame({"t": [when(d) for d, _ in pairs], "v": [float(v) for _, v in pairs]})


def regular_frame(values, start, minutes):
    t = pd.date_range(start, periods=len(values), freq=pd.Timedelta(minutes=minutes))
    v = [float("nan") if x is None else float(x) for x in values]
    return pd.DataFrame({"t": t, "v": v}).dropna()


green_speed = pd.concat([
    regular_frame(SPEED_GREEN, SERIES_START, 180),
    regular_frame(BURST_1, "2021-04-06 10:40", 20),
    regular_frame(BURST_2, "2021-04-15 09:00", 60),
    regular_frame(BURST_3, "2021-04-19 05:00", 60),
]).sort_values("t").reset_index(drop=True)

# ---------------------------------------------------------------- encodings
LABEL_EXPR = "date(datum.value) % 5 == 0 ? timeFormat(datum.value, '%b %d') : ''"


def x_enc(last):
    common = dict(tickCount=alt.TimeIntervalStep(interval="day", step=1), grid=True, gridColor=GRID,
                  ticks=False, domain=False, labelOverlap=False, labelFlush=False, minExtent=0)
    if last:
        axis = alt.Axis(labelExpr=LABEL_EXPR, labelPadding=20, title="Time (Days - UTC)", titlePadding=6,
                        titleFontSize=30, **common)
    else:
        axis = alt.Axis(labels=False, title=None, **common)
    return alt.X("t:T", scale=alt.Scale(domain=X_DOMAIN), axis=axis)


def y_enc(title, domain, values):
    axis = alt.Axis(values=values, labelExpr="datum.value + ''", title=title, grid=True, gridColor=GRID,
                    ticks=False, domain=False, labelPadding=7, titleX=-88, titleY=H / 2, titleAngle=270,
                    titleAlign="center", titleBaseline="middle")
    return alt.Y("v:Q", scale=alt.Scale(domain=domain, nice=False, zero=False), axis=axis)


DAY_TICKS = pd.DataFrame({"t": pd.date_range("2021-04-06", "2021-05-04", freq="D")})


def inward_ticks(xe, ye, inner):
    yv = pd.DataFrame({"v": inner})
    rule = dict(color=INK, strokeWidth=1)
    return [
        alt.Chart(DAY_TICKS).mark_rule(**rule).encode(x=xe, y=alt.value(0), y2=alt.value(TICK)),
        alt.Chart(DAY_TICKS).mark_rule(**rule).encode(x=xe, y=alt.value(H - TICK), y2=alt.value(H)),
        alt.Chart(yv).mark_rule(**rule).encode(y=ye, x=alt.value(0), x2=alt.value(TICK)),
        alt.Chart(yv).mark_rule(**rule).encode(y=ye, x=alt.value(W - TICK), x2=alt.value(W)),
    ]


def panel(title, ytitle, ydomain, yvalues, marks, last=False):
    xe = x_enc(last)
    ye = y_enc(ytitle, ydomain, yvalues)
    layers = [make(xe, ye) for make in marks]
    layers += inward_ticks(xe, ye, yvalues[1:-1])
    return alt.layer(*layers).properties(width=W, height=H, title=title)


def line(df, color, **kw):
    def make(xe, ye):
        enc = dict(x=xe, y=ye)
        if "seg" in df.columns:
            enc["detail"] = "seg:N"
        return alt.Chart(df).mark_line(color=color, strokeWidth=1, **kw).encode(**enc)
    return make


def dots(df, color, size):
    def make(xe, ye):
        return alt.Chart(df).mark_circle(color=color, size=size, opacity=1).encode(x=xe, y=ye)
    return make


# ---------------------------------------------------------------- panels
p_wave = panel("Wave Height", "m", [0, 1], [0, 0.25, 0.5, 0.75, 1],
               [line(segments_frame(WAVE_HEIGHT), MATLAB_BLUE)])
p_period = panel("Peak Period", "sec", [0, 8], [0, 2, 4, 6, 8],
                 [line(segments_frame(PEAK_PERIOD), MATLAB_BLUE)])
p_dir = panel("Peak Direction (From, True)", "deg T", [0, 360], [0, 90, 180, 270, 360],
              [dots(pairs_frame(PEAK_DIRECTION), MATLAB_BLUE, 30)])
p_tide = panel("Water Over Instrument", "m unref", [7, 15], [7, 9, 11, 13, 15],
               [line(pairs_frame(TIDE), MATLAB_BLUE, interpolate="monotone")])
p_speed = panel("Current Magnitude at bin ranges: 6.9 m (green), 3.4 m (red), 0.9 m (blue)", "cm/s",
                [0, 180], [0, 45, 90, 135, 180],
                [line(green_speed, GREEN),
                 line(regular_frame(SPEED_RED, SERIES_START, 120), RED),
                 line(regular_frame(SPEED_BLUE, SERIES_START, 60), BLUE)])
p_cdir = panel("Current Direction (Toward, True) at bin ranges: 6.9 m (green), 3.4 m (red), 0.9 m (blue)", "deg T",
               [0, 360], [0, 90, 180, 270, 360],
               [dots(regular_frame(DIR_GREEN, SERIES_START, 120), GREEN, 34),
                dots(regular_frame(DIR_RED, SERIES_START, 60), RED, 34),
                dots(regular_frame(DIR_BLUE, SERIES_START, 60), BLUE, 34)],
               last=True)

chart = alt.vconcat(p_wave, p_period, p_dir, p_tide, p_speed, p_cdir, spacing=SPACING).properties(
    padding={"left": 3, "top": 9, "right": 4, "bottom": 0},
    background="white",
).configure_view(
    stroke=INK, strokeWidth=1.2,
).configure_axis(
    labelFont=FONT, labelFontSize=28, labelColor=INK,
    titleFont=FONT, titleFontSize=31, titleFontWeight="normal", titleColor=INK,
    gridOpacity=1, gridWidth=1,
).configure_title(
    font=FONT, fontSize=30, fontWeight="bold", color="#000000", anchor="middle", frame="group", offset=-9.5,
)

chart.save("out.html", embed_options={"renderer": "svg", "actions": False})
